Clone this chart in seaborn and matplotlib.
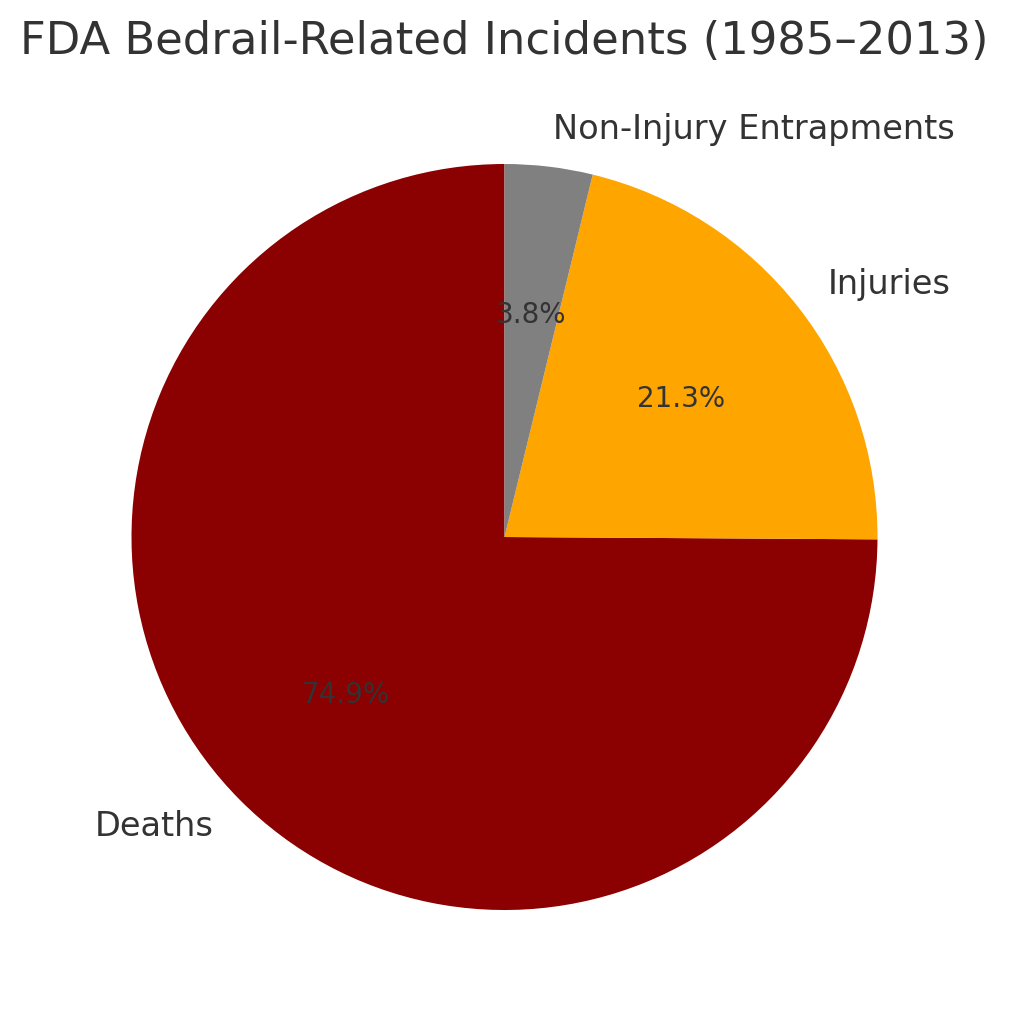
import matplotlib
matplotlib.use("Agg")
import matplotlib.pyplot as plt
import seaborn as sns

sns.set_theme(style="white")
plt.rcParams['font.family'] = ['DejaVu Sans']
plt.rcParams['text.color'] = '#333333'

categories = ["Deaths", "Injuries", "Non-Injury Entrapments"]
values = [74.9, 21.3, 3.8]
colors = ["#8B0000", "#FFA500", "#808080"]

fig = plt.figure(figsize=(10.09, 10.24), dpi=100)
ax = fig.add_axes([0.0, 0.0, 1.0, 1.0])
wedges, texts, autotexts = ax.pie(values, labels=categories, colors=colors, autopct='%1.1f%%',
                                  startangle=90, wedgeprops={'linewidth': 0},
                                  textprops={'fontsize': 24.2, 'color': '#333333'})
for t in autotexts:
    t.set_fontsize(20)
ax.set_aspect('equal')
ax.set_xlim(-1.35, 1.35)
ax.set_ylim(-1.3056, 1.4397)
fig.text(0.5, 0.959, "FDA Bedrail-Related Incidents (1985–2013)", ha='center', va='center',
         fontsize=32.3, color='#333333')
fig.savefig("out.png", dpi=100)
